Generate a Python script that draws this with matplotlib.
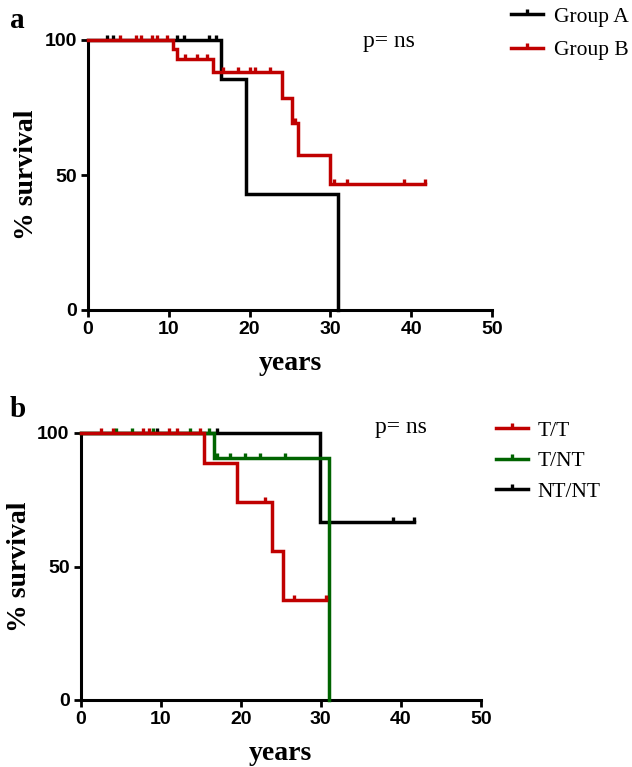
import numpy as np
import matplotlib
matplotlib.use("Agg")
import matplotlib.pyplot as plt
from matplotlib.lines import Line2D

# ---- panel a data (step times / survival %, censor times) ----
a_labels = ["Group A", "Group B"]
a_colors = ["black", "#c00000"]
grpA_t = [0, 16.5, 19.5, 31.0]
grpA_s = [100, 85.7, 42.9, 0]
grpA_cens = [2.4, 3.1, 11.0, 11.9, 15.0, 15.9]
grpB_t = [0, 10.5, 11.0, 15.5, 24.0, 25.3, 26.0, 30.0, 41.7]
grpB_s = [100, 96.6, 92.9, 88.3, 78.4, 69.1, 57.4, 46.7, 46.7]
grpB_cens = [4.0, 6.0, 6.6, 7.9, 8.6, 9.8, 12.0, 13.5, 14.7, 16.7, 18.6,
             20.0, 20.7, 22.5, 25.6, 30.4, 32.0, 39.1, 41.7]

# ---- panel b data ----
b_labels = ["T/T", "T/NT", "NT/NT"]
b_colors = ["#c00000", "#006400", "black"]
tt_t = [0, 15.4, 19.5, 23.9, 25.3, 30.6]
tt_s = [100, 88.6, 74.0, 55.8, 37.5, 37.5]
tt_cens = [2.5, 4.0, 7.8, 8.5, 11.0, 12.0, 14.9, 23.0, 26.6, 30.6]
tnt_t = [0, 16.6, 31.0]
tnt_s = [100, 90.5, 0]
tnt_cens = [4.4, 6.4, 9.0, 13.7, 16.0, 17.0, 18.7, 20.5, 22.4, 25.5]
ntnt_t = [0, 29.9, 41.6]
ntnt_s = [100, 66.5, 66.5]
ntnt_cens = [9.5, 17.0, 39.0, 41.6]

plt.rcParams["font.family"] = ["Liberation Sans", "DejaVu Sans"]
SERIF = ["Liberation Serif", "DejaVu Serif"]
LW = 2.5
MS = 7
MEW = 2.4
tick_marker = [(0, 0), (0, 1)]


def km_curve(ax, t, s, cens, color, z):
    t = np.asarray(t, float)
    s = np.asarray(s, float)
    ax.step(t, s, where="post", color=color, lw=LW, zorder=z,
            solid_joinstyle="miter", clip_on=False)
    idx = np.searchsorted(t, cens, side="right") - 1
    ax.plot(cens, s[idx], ls="none", marker=tick_marker, ms=MS,
            mew=MEW, color=color, zorder=z, clip_on=False)


def style_axes(ax):
    for sp in ["top", "right"]:
        ax.spines[sp].set_visible(False)
    for sp in ["left", "bottom"]:
        ax.spines[sp].set_linewidth(2.2)
    ax.set_xlim(0, 50)
    ax.set_ylim(0, 100)
    ax.set_xticks([0, 10, 20, 30, 40, 50])
    ax.set_yticks([0, 50, 100])
    ax.tick_params(width=2, length=5, labelsize=14, pad=3)
    for lab in ax.get_xticklabels() + ax.get_yticklabels():
        lab.set_fontweight("bold")
    ax.set_xlabel("years", family=SERIF, fontweight="bold", fontsize=20, labelpad=9)
    ax.set_ylabel("% survival", family=SERIF, fontweight="bold", fontsize=20, labelpad=4)


fig = plt.figure(figsize=(6.32, 7.67), dpi=100)
W, H = 632, 767

ax1 = fig.add_axes([88 / W, 1 - 310 / H, 404 / W, 270 / H])
ax2 = fig.add_axes([80.7 / W, 1 - 700 / H, 400 / W, 267 / H])

km_curve(ax1, grpA_t, grpA_s, grpA_cens, a_colors[0], 3)
km_curve(ax1, grpB_t, grpB_s, grpB_cens, a_colors[1], 4)
km_curve(ax2, ntnt_t, ntnt_s, ntnt_cens, b_colors[2], 3)
km_curve(ax2, tnt_t, tnt_s, tnt_cens, b_colors[1], 4)
km_curve(ax2, tt_t, tt_s, tt_cens, b_colors[0], 5)

for ax in (ax1, ax2):
    style_axes(ax)

ax1.text(363 / W, 1 - 42 / H, "p= ns", transform=fig.transFigure, family=SERIF,
         fontsize=17, va="center", ha="left")
ax2.text(375 / W, 1 - 428 / H, "p= ns", transform=fig.transFigure, family=SERIF,
         fontsize=17, va="center", ha="left")

fig.text(10 / W, 1 - 20 / H, "a", family=SERIF, fontweight="bold", fontsize=21, va="center")
fig.text(10 / W, 1 - 410 / H, "b", family=SERIF, fontweight="bold", fontsize=21, va="center")


def make_handles(colors):
    return [Line2D([], [], color=c, lw=LW, marker=tick_marker, ms=MS, mew=MEW)
            for c in colors]


ax1.legend(make_handles(a_colors), a_labels, loc="upper left",
           bbox_to_anchor=(500 / W, 1 + 4 / H), bbox_transform=fig.transFigure,
           frameon=False, numpoints=1, handlelength=1.5, handletextpad=0.5,
           labelspacing=0.62, borderpad=0, prop={"family": SERIF, "size": 15.5})
ax2.legend(make_handles(b_colors), b_labels, loc="upper left",
           bbox_to_anchor=(485 / W, 1 - 410 / H), bbox_transform=fig.transFigure,
           frameon=False, numpoints=1, handlelength=1.5, handletextpad=0.45,
           labelspacing=0.48, borderpad=0, prop={"family": SERIF, "size": 15.5})

fig.savefig("out.png", dpi=100)
